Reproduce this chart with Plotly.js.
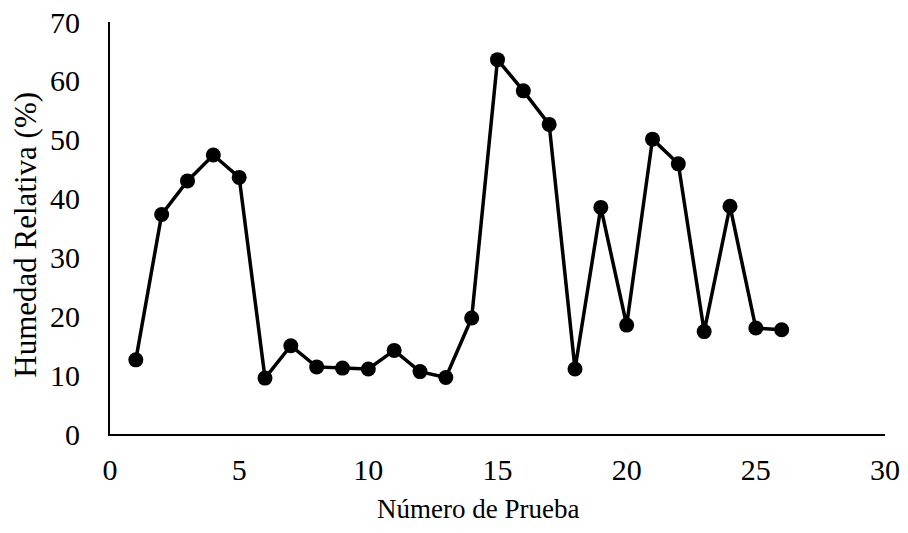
<!DOCTYPE html>
<html>
<head>
<meta charset="utf-8">
<script src="https://cdn.plot.ly/plotly-3.0.1.min.js"></script>
<style>html,body{margin:0;padding:0;background:#fff;}</style>
</head>
<body>
<div id="chart" style="width:908px;height:533px;"></div>
<script>
const prueba = [1,2,3,4,5,6,7,8,9,10,11,12,13,14,15,16,17,18,19,20,21,22,23,24,25,26];
const humedad = [12.6,37.3,43.0,47.4,43.6,9.5,15.0,11.4,11.2,11.05,14.2,10.6,9.6,19.7,63.6,58.3,52.6,11.05,38.5,18.5,50.1,45.9,17.4,38.7,18.0,17.7];
const xTicks = [0,5,10,15,20,25,30];
const yTicks = [0,10,20,30,40,50,60,70];
const xTitle = 'Número de Prueba';
const yTitle = 'Humedad Relativa (%)';

const fam = '"Liberation Serif", "Times New Roman", serif';
const tickFont = {family: fam, size: 30, color: '#000'};
const xTitleFont = {family: fam, size: 27, color: '#000'};
const yTitleFont = {family: fam, size: 31, color: '#000'};

Plotly.newPlot('chart', [{
  x: prueba, y: humedad, type: 'scatter', mode: 'lines+markers',
  line: {color: '#000', width: 3.5},
  marker: {color: '#000', size: 15},
  cliponaxis: false
}], {
  width: 908, height: 533,
  margin: {l: 110, r: 23, t: 22, b: 99},
  paper_bgcolor: '#fff', plot_bgcolor: '#fff',
  font: tickFont,
  showlegend: false,
  xaxis: {
    range: [0, 30], tickvals: xTicks, ticktext: xTicks.map(String),
    showgrid: false, zeroline: false, showline: true, linecolor: '#000', linewidth: 2,
    ticks: '', ticklabelstandoff: 8, tickfont: tickFont
  },
  yaxis: {
    range: [0, 70], tickvals: yTicks, ticktext: yTicks.map(String),
    showgrid: false, zeroline: false, showline: true, linecolor: '#000', linewidth: 2,
    ticks: '', ticklabelstandoff: 22, tickfont: tickFont
  },
  annotations: [
    {text: xTitle, font: xTitleFont, showarrow: false, xref: 'paper', yref: 'paper',
     x: 0.475, y: -0.183, xanchor: 'center', yanchor: 'middle'},
    {text: yTitle, font: yTitleFont, showarrow: false, xref: 'paper', yref: 'paper', textangle: -90,
     x: -0.110, y: 0.483, xanchor: 'center', yanchor: 'middle'}
  ]
}, {displayModeBar: false, staticPlot: true});
</script>
</body>
</html>
